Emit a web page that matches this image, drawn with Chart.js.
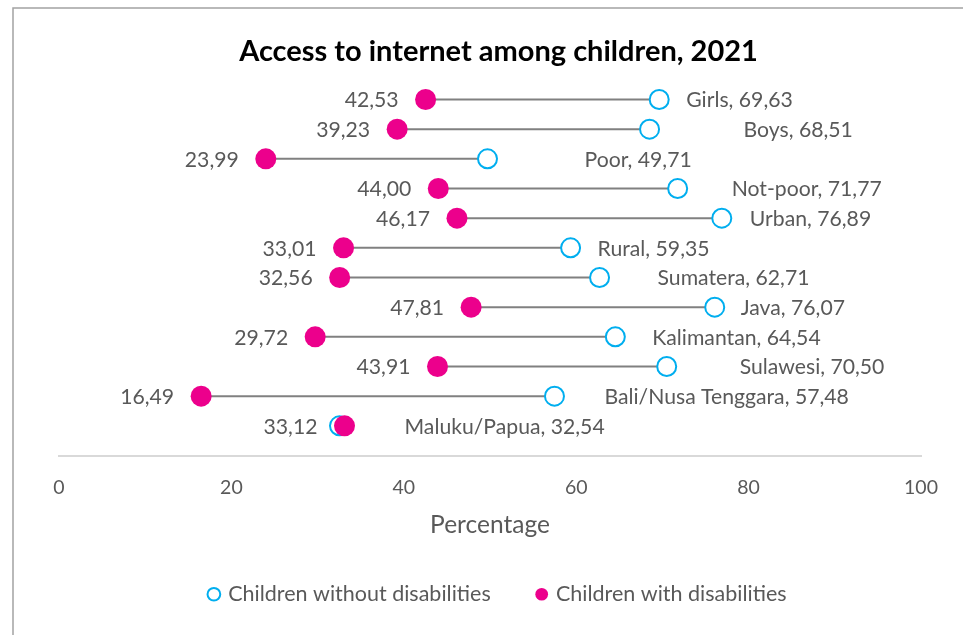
<!DOCTYPE html>
<html>
<head>
<meta charset="utf-8">
<script src="https://cdn.jsdelivr.net/npm/chart.js@4.4.1/dist/chart.umd.min.js"></script>
<style>
  html, body { margin: 0; padding: 0; background: #ffffff; }
  #wrap { position: relative; width: 963px; height: 635px; }
</style>
</head>
<body>
<div id="wrap"><canvas id="c" width="963" height="635"></canvas></div>
<script>
// ---- data ----
const categories = ['Girls', 'Boys', 'Poor', 'Not-poor', 'Urban', 'Rural', 'Sumatera', 'Java', 'Kalimantan', 'Sulawesi', 'Bali/Nusa Tenggara', 'Maluku/Papua'];
const withDisabilities = [42.53, 39.23, 23.99, 44.00, 46.17, 33.01, 32.56, 47.81, 29.72, 43.91, 16.49, 33.12];
const withoutDisabilities = [69.63, 68.51, 49.71, 71.77, 76.89, 59.35, 62.71, 76.07, 64.54, 70.50, 57.48, 32.54];
const xTicks = [0, 20, 40, 60, 80, 100];
const seriesNames = ['Children without disabilities', 'Children with disabilities'];

// label placement (style only): horizontal gap in px from the open marker to its label
const rightLabelGap = [27, 94, 97, 54, 28, 27, 58, 26, 37, 73, 50, 65];

const FONT = 'Lato';
const TEXT = '#595959';
const PINK = '#EC008C';
const CYAN = '#00AEEF';
const LINE = '#808080';

const n = categories.length;
const rowOf = i => n - i; // row slot on the hidden vertical scale
const fmt = v => v.toFixed(2).replace('.', ',');

const lineSets = categories.map((c, i) => ({
  type: 'line',
  label: '_conn_' + c,
  data: [{x: withDisabilities[i], y: rowOf(i)}, {x: withoutDisabilities[i], y: rowOf(i)}],
  borderColor: LINE,
  borderWidth: 2,
  pointRadius: 0,
  pointHoverRadius: 0,
  showLine: true,
  fill: false,
  order: 2
}));

const withoutSet = {
  type: 'scatter',
  label: seriesNames[0],
  data: withoutDisabilities.map((v, i) => ({x: v, y: rowOf(i)})),
  pointStyle: 'circle',
  pointRadius: 9.5,
  pointHoverRadius: 9.5,
  borderWidth: 2,
  borderColor: CYAN,
  backgroundColor: '#ffffff',
  order: 1
};
const withSet = {
  type: 'scatter',
  label: seriesNames[1],
  data: withDisabilities.map((v, i) => ({x: v, y: rowOf(i)})),
  pointStyle: 'circle',
  pointRadius: 10.5,
  pointHoverRadius: 10.5,
  borderWidth: 0,
  borderColor: PINK,
  backgroundColor: PINK,
  order: 0
};

const framePlugin = {
  id: 'frame',
  beforeDraw(chart) {
    const ctx = chart.ctx;
    ctx.save();
    ctx.fillStyle = '#ffffff';
    ctx.fillRect(0, 0, chart.width, chart.height);
    ctx.strokeStyle = '#a3a3a3';
    ctx.lineWidth = 1.5;
    ctx.beginPath();
    ctx.moveTo(13, chart.height);
    ctx.lineTo(13, 8);
    ctx.lineTo(chart.width, 8);
    ctx.stroke();
    ctx.restore();
  }
};

const labelPlugin = {
  id: 'dotLabels',
  afterDatasetsDraw(chart) {
    const ctx = chart.ctx;
    const xs = chart.scales.x, ys = chart.scales.y;
    ctx.save();
    ctx.font = '21.2px ' + FONT;
    ctx.fillStyle = TEXT;
    ctx.textBaseline = 'middle';
    categories.forEach((c, i) => {
      const y = ys.getPixelForValue(rowOf(i)) + 1;
      const xl = xs.getPixelForValue(withDisabilities[i]);
      ctx.textAlign = 'right';
      ctx.fillText(fmt(withDisabilities[i]), xl - 27, y);
      const xr = xs.getPixelForValue(withoutDisabilities[i]);
      ctx.textAlign = 'left';
      ctx.fillText(c + ', ' + fmt(withoutDisabilities[i]), xr + rightLabelGap[i], y);
    });
    ctx.restore();
  }
};

const hiddenAxis = (pos, w) => ({
  type: 'linear',
  position: pos,
  min: 0, max: 13,
  display: true,
  afterFit: s => { s.width = w; },
  grid: { display: false, drawTicks: false },
  border: { display: false },
  ticks: { display: false }
});

new Chart(document.getElementById('c'), {
  data: { datasets: [withoutSet, withSet, ...lineSets] },
  options: {
    responsive: false,
    animation: false,
    events: [],
    layout: { padding: { left: 34, right: 0, top: 0, bottom: 20 } },
    plugins: {
      title: {
        display: true,
        text: 'Access to internet among children, 2021',
        color: '#000000',
        font: { family: FONT, size: 29, weight: 'bold' },
        padding: { top: 34, bottom: 1 }
      },
      legend: {
        position: 'bottom',
        labels: {
          filter: item => !item.text.startsWith('_conn_'),
          sort: (a, b) => a.datasetIndex - b.datasetIndex,
          usePointStyle: true,
          pointStyle: 'circle',
          boxWidth: 7,
          boxHeight: 9,
          color: TEXT,
          font: { family: FONT, size: 21.5 },
          padding: 47.5
        }
      },
      tooltip: { enabled: false }
    },
    scales: {
      x: {
        type: 'linear',
        min: 0, max: 100,
        afterBuildTicks: s => { s.ticks = xTicks.map(v => ({value: v})); },
        afterFit: s => { s.height = 80.5; },
        grid: { display: false, drawTicks: false },
        border: { display: true, color: '#d9d9d9', width: 2 },
        ticks: { color: TEXT, font: { family: FONT, size: 19.5 }, padding: 21 },
        title: {
          display: true, text: 'Percentage', color: TEXT,
          font: { family: FONT, size: 24.5, lineHeight: 0.9 }, padding: { top: 0, bottom: 0 }
        }
      },
      y: hiddenAxis('left', 25),
      yRight: hiddenAxis('right', 42)
    }
  },
  plugins: [framePlugin, labelPlugin]
});
</script>
</body>
</html>
